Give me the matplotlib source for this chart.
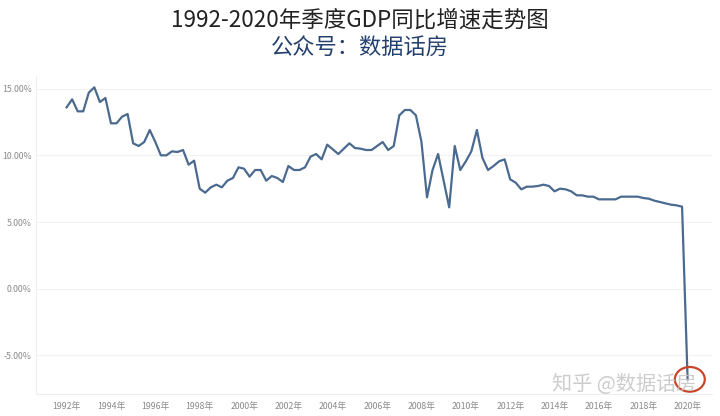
import matplotlib
matplotlib.use("Agg")
import matplotlib.pyplot as plt
from matplotlib.patches import Ellipse
import numpy as np

plt.rcParams['font.family'] = ['Noto Sans CJK SC', 'DejaVu Sans']

start_year = 1992
growth = [
    13.6, 14.2, 13.3, 13.3,   # 1992
    14.7, 15.1, 14.0, 14.3,   # 1993
    12.4, 12.4, 12.9, 13.1,   # 1994
    10.9, 10.7, 11.0, 11.9,   # 1995
    11.0, 10.0, 10.0, 10.3,   # 1996
    10.25, 10.4, 9.3, 9.6,    # 1997
    7.5, 7.2, 7.6, 7.8,       # 1998
    7.6, 8.1, 8.3, 9.1,       # 1999
    9.0, 8.4, 8.9, 8.9,       # 2000
    8.1, 8.45, 8.3, 8.0,      # 2001
    9.2, 8.9, 8.9, 9.1,       # 2002
    9.9, 10.1, 9.7, 10.8,     # 2003
    10.45, 10.1, 10.5, 10.9,  # 2004
    10.55, 10.5, 10.4, 10.4,  # 2005
    10.7, 11.0, 10.4, 10.7,   # 2006
    13.0, 13.4, 13.4, 13.0,   # 2007
    11.0, 6.85, 8.9, 10.1,    # 2008
    8.1, 6.1, 10.7, 8.9,      # 2009
    9.55, 10.3, 11.9, 9.8,    # 2010
    8.9, 9.2, 9.55, 9.7,      # 2011
    8.2, 7.95, 7.45, 7.65,    # 2012
    7.65, 7.7, 7.8, 7.7,      # 2013
    7.3, 7.5, 7.45, 7.3,      # 2014
    7.0, 7.0, 6.9, 6.9,       # 2015
    6.7, 6.7, 6.7, 6.7,       # 2016
    6.9, 6.9, 6.9, 6.9,       # 2017
    6.8, 6.75, 6.6, 6.5,      # 2018
    6.4, 6.3, 6.25, 6.15,     # 2019
    -6.8,                     # 2020
]
x_years = [start_year + i / 4 for i in range(len(growth))]

y_ticks = [-5, 0, 5, 10, 15]
y_tick_labels = ['-5.00%', '0.00%', '5.00%', '10.00%', '15.00%']
x_ticks = list(range(1992, 2021, 2))
x_tick_labels = [f'{y}年' for y in x_ticks]

title = '1992-2020年季度GDP同比增速走势图'
subtitle = '公众号：数据话房'
watermark = '知乎 @数据话房'

W, H = 720, 416
fig = plt.figure(figsize=(W / 100, H / 100), dpi=100)
ax = fig.add_axes([36 / W, 1 - 394 / H, (712 - 36) / W, (394 - 76) / H])

ax.plot(x_years, growth, color='#4a6a8f', lw=1.6, solid_joinstyle='round', zorder=3)

ax.set_xlim(1990.62, 2021.1)
ax.set_ylim(-7.9, 15.95)
ax.set_yticks(y_ticks)
ax.set_yticklabels(y_tick_labels)
ax.set_xticks(x_ticks)
ax.set_xticklabels(x_tick_labels)
ax.tick_params(axis='both', length=0, labelsize=6.3, labelcolor='#8a8a8a')
ax.tick_params(axis='y', pad=3)
ax.tick_params(axis='x', pad=6)
ax.grid(axis='y', color='#f2f2f2', lw=0.8)
ax.set_axisbelow(True)
for side in ['top', 'right']:
    ax.spines[side].set_visible(False)
for side in ['left', 'bottom']:
    ax.spines[side].set_color('#eeeeee')
    ax.spines[side].set_linewidth(0.8)

# red circle around last point
ax.add_patch(Ellipse((x_years[-1] + 0.1, growth[-1]), 1.35, 1.85,
                     fill=False, edgecolor='#c8472b', lw=1.6, zorder=4))

fig.text(0.5, 1 - 20 / H, title, ha='center', va='center', fontsize=16.2, color='#222222')
fig.text(0.5, 1 - 48 / H, subtitle, ha='center', va='center', fontsize=16, color='#23406e')
fig.text(624 / W, 1 - 384 / H, watermark, ha='center', va='center', fontsize=14.5,
         color='#c4c4c4', alpha=0.85, zorder=5)

fig.savefig('out.png', dpi=100, facecolor='white')
